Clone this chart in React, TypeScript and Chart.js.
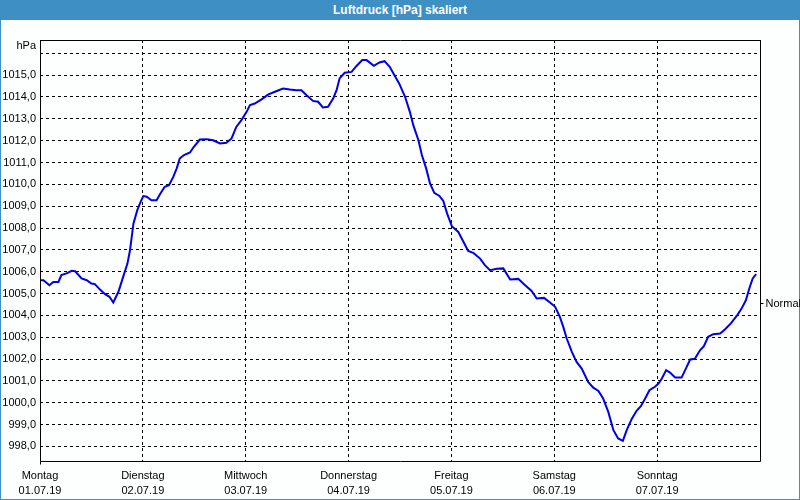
import React, { useEffect, useRef } from "react";
import { Chart, registerables } from "chart.js";

Chart.register(...registerables);

const chartTitle = "Luftdruck [hPa] skaliert";
const unitLabel = "hPa";
const normalLabel = "Normal";
const normalValue = 1004.55;

const dayNames = ["Montag", "Dienstag", "Mittwoch", "Donnerstag", "Freitag", "Samstag", "Sonntag"];
const dayDates = ["01.07.19", "02.07.19", "03.07.19", "04.07.19", "05.07.19", "06.07.19", "07.07.19"];

// hours since 01.07.19 00:00
const hours = [
  0, 0.8, 2.2, 3.1, 4.3, 5, 6.2, 7.4, 8.2, 9.7, 10.9, 12, 12.8, 14, 15.2, 16.2, 17.1, 18.3, 19.4, 20.4,
  21, 21.8, 22.7, 23.3, 24.1, 24.9, 26, 27.2, 28.1, 29.1, 30.1, 31.1, 31.9, 32.6, 33.6, 35, 35.9, 37.3,
  38.9, 40.4, 42, 43.5, 44.7, 45.8, 47, 48.2, 49, 50.1, 51.7, 53.2, 54.8, 56.7, 58.3, 59.8, 61, 62.2,
  63.7, 64.9, 66, 67.2, 68.4, 69.2, 69.9, 71.1, 72.7, 73.8, 75.2, 76.2, 77.9, 79.2, 80.4, 81.6, 82.7,
  83.8, 85.2, 86.3, 87.1, 88.3, 89.1, 90.1, 91, 92, 93.2, 94.1, 95, 96.1, 97.6, 98.8, 99.9, 101.1,
  102.7, 103.8, 105, 106.6, 108.1, 109.7, 111.6, 113.2, 114.7, 115.9, 117.6, 119, 120.2, 121.3, 122.1,
  122.9, 124.1, 125.2, 126.4, 127.9, 129.1, 130.3, 131.4, 132.6, 133.8, 134.9, 136, 136.9, 138.1,
  139.2, 140.2, 141.2, 142.2, 143.5, 144.3, 145.1, 146.1, 147, 148.2, 149.7, 150.7, 151.7, 152.8, 154,
  154.9, 155.9, 157.1, 158.7, 159.8, 161.2, 162.7, 163.7, 164.7, 165.5, 166.3, 167.1,
];

const pressure = [
  1005.61, 1005.61, 1005.38, 1005.53, 1005.53, 1005.84, 1005.92, 1006.04, 1006.02, 1005.69, 1005.61,
  1005.46, 1005.43, 1005.18, 1004.97, 1004.85, 1004.59, 1005.08, 1005.76, 1006.37, 1006.98, 1008.2,
  1008.82, 1009.12, 1009.46, 1009.43, 1009.27, 1009.27, 1009.58, 1009.89, 1009.96, 1010.34, 1010.73,
  1011.18, 1011.34, 1011.46, 1011.72, 1012.05, 1012.07, 1012.02, 1011.87, 1011.9, 1012.1, 1012.63,
  1012.94, 1013.32, 1013.63, 1013.7, 1013.89, 1014.11, 1014.24, 1014.39, 1014.34, 1014.31, 1014.31,
  1014.08, 1013.82, 1013.78, 1013.52, 1013.55, 1013.93, 1014.31, 1014.85, 1015.11, 1015.15, 1015.41,
  1015.69, 1015.69, 1015.43, 1015.58, 1015.64, 1015.38, 1015.0, 1014.62, 1014.0, 1013.32, 1012.71,
  1012.02, 1011.34, 1010.73, 1010.04, 1009.61, 1009.47, 1009.24, 1008.66, 1008.08, 1007.82, 1007.37,
  1006.95, 1006.86, 1006.6, 1006.3, 1006.07, 1006.13, 1006.15, 1005.64, 1005.67, 1005.38, 1005.12,
  1004.77, 1004.8, 1004.59, 1004.39, 1003.93, 1003.47, 1002.94, 1002.33, 1001.87, 1001.56, 1000.95,
  1000.69, 1000.54, 1000.19, 999.58, 998.74, 998.36, 998.25, 998.74, 999.27, 999.63, 999.84, 1000.19,
  1000.57, 1000.73, 1000.88, 1001.11, 1001.49, 1001.38, 1001.15, 1001.15, 1001.56, 1001.98, 1002.01,
  1002.4, 1002.59, 1003.02, 1003.14, 1003.17, 1003.35, 1003.63, 1004.01, 1004.31, 1004.69, 1005.23,
  1005.69, 1005.89,
];

const FONT = "'Liberation Sans', Arial, sans-serif";
const BLUE = "#3d8fc4";

export default function App() {
  const canvasRef = useRef<HTMLCanvasElement | null>(null);

  useEffect(() => {
    const canvas = canvasRef.current;
    if (!canvas) return;

    const framePlugin = {
      id: "frame",
      afterDraw(chart: any) {
        const { ctx, chartArea } = chart;
        const l = Math.round(chartArea.left) + 0.5;
        const t = Math.round(chartArea.top) + 0.5;
        const r = Math.round(chartArea.right) + 0.5;
        const b = Math.round(chartArea.bottom) + 0.5;
        ctx.save();
        ctx.strokeStyle = "#000";
        ctx.lineWidth = 1;
        ctx.setLineDash([]);
        ctx.beginPath();
        ctx.moveTo(l, t);
        ctx.lineTo(r, t);
        ctx.lineTo(r, b);
        ctx.lineTo(l, b);
        ctx.closePath();
        // small tick at left bottom
        ctx.moveTo(l, b);
        ctx.lineTo(l, b + 3);
        const ny = Math.round(chart.scales.y.getPixelForValue(normalValue)) + 0.5;
        ctx.moveTo(r, ny);
        ctx.lineTo(r + 3, ny);
        ctx.stroke();
        ctx.fillStyle = "#000";
        ctx.font = `11px ${FONT}`;
        ctx.textBaseline = "middle";
        ctx.textAlign = "left";
        ctx.fillText(normalLabel, r + 5, ny);
        ctx.textAlign = "right";
        const uy = chart.scales.y.getPixelForValue(1016) - 7;
        ctx.fillText(unitLabel, chartArea.left - 4, uy);
        ctx.restore();
      },
    };

    const chart = new Chart(canvas, {
      type: "line",
      data: {
        datasets: [
          {
            data: hours.map((h, i) => ({ x: h, y: pressure[i] })),
            borderColor: "#0000e6",
            borderWidth: 2,
            pointRadius: 0,
            tension: 0,
            fill: false,
          },
        ],
      },
      options: {
        animation: false,
        responsive: false,
        maintainAspectRatio: false,
        layout: { padding: { left: 0, right: 40, top: 20, bottom: 0 } },
        plugins: { legend: { display: false }, tooltip: { enabled: false } },
        scales: {
          x: {
            type: "linear",
            min: 0,
            max: 168,
            afterFit: (s: any) => {
              s.height = 39;
            },
            ticks: {
              stepSize: 24,
              autoSkip: false,
              maxRotation: 0,
              includeBounds: false,
              padding: 8,
              color: "#000",
              font: { family: FONT, size: 11, lineHeight: 1.35 },
              callback: (v: any) => {
                const i = Math.round(Number(v) / 24);
                return i < dayNames.length ? [dayNames[i], dayDates[i]] : "";
              },
            },
            grid: { color: "#000", lineWidth: 1, drawTicks: false },
            border: { display: false, dash: [3, 3] },
          },
          y: {
            min: 997.33,
            max: 1016.61,
            afterFit: (s: any) => {
              s.width = 40;
            },
            ticks: {
              stepSize: 1,
              includeBounds: false,
              padding: 4,
              color: "#000",
              font: { family: FONT, size: 11 },
              callback: (v: any) => (Number(v) >= 1016 ? "" : Number(v).toFixed(1).replace(".", ",")),
            },
            grid: { color: "#000", lineWidth: 1, drawTicks: false },
            border: { display: false, dash: [3, 3] },
          },
        },
      },
      plugins: [framePlugin],
    } as any);

    return () => chart.destroy();
  }, []);

  return (
    <div
      style={{
        position: "absolute",
        left: 0,
        top: 0,
        width: 800,
        height: 500,
        background: "#fdfefe",
        boxShadow: `inset 0 0 0 1px ${BLUE}`,
        overflow: "hidden",
      }}
    >
      <div
        style={{
          position: "absolute",
          left: 0,
          top: 0,
          width: 800,
          height: 20,
          lineHeight: "20px",
          background: BLUE,
          color: "#fff",
          fontFamily: FONT,
          fontWeight: "bold",
          fontSize: 12,
          textAlign: "center",
        }}
      >
        {chartTitle}
      </div>
      <canvas
        ref={canvasRef}
        width={800}
        height={480}
        style={{ position: "absolute", left: 0, top: 20, width: 800, height: 480 }}
      />
    </div>
  );
}
